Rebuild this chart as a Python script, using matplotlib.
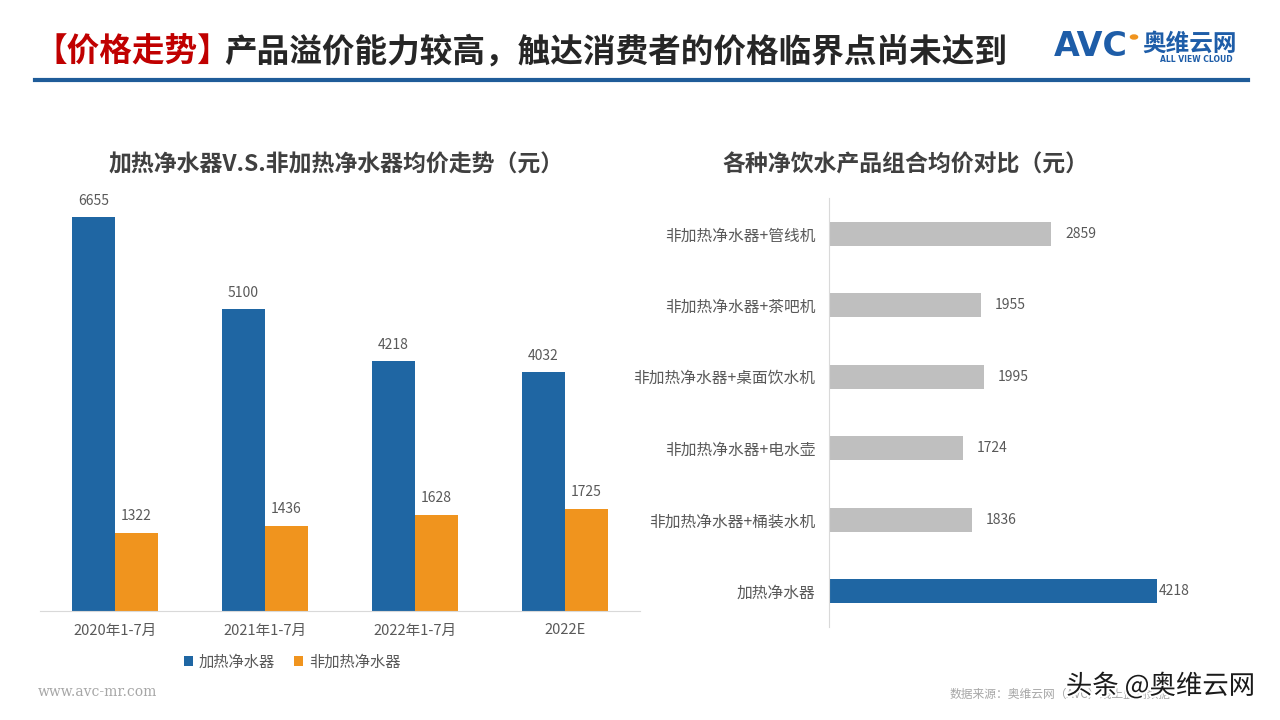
import matplotlib
matplotlib.use('Agg')
import matplotlib.pyplot as plt
import matplotlib.patheffects as pe
import numpy as np

plt.rcParams['font.family'] = ['Noto Sans CJK SC', 'DejaVu Sans']

BLUE   = "#1F66A3"
ORANGE = "#F0941E"
GRAY   = "#BFBFBF"
TXT    = "#595959"
DARK   = "#262626"
RED    = "#C00000"
LINE   = "#1F5C99"
LOGO   = "#1E5DA8"

# ── data ─────────────────────────────────────────────────────────────────────
periods     = ["2020年1-7月", "2021年1-7月", "2022年1-7月", "2022E"]
heated      = [6655, 5100, 4218, 4032]
non_heated  = [1322, 1436, 1628, 1725]

combos      = ["非加热净水器+管线机", "非加热净水器+茶吧机", "非加热净水器+桌面饮水机",
               "非加热净水器+电水壶", "非加热净水器+桶装水机", "加热净水器"]
combo_price = [2859, 1955, 1995, 1724, 1836, 4218]

fig = plt.figure(figsize=(12.8, 7.2), dpi=100)
fig.patch.set_facecolor("white")

def fx(px): return px / 1280
def fy(py): return 1 - py / 720

# ── header ───────────────────────────────────────────────────────────────────
t1 = fig.text(fx(34), fy(52), "【价格走势】", color=RED, fontsize=23.5,
              fontweight='bold', va='center', ha='left')
fig.canvas.draw()
bb = t1.get_window_extent()
fig.text(bb.x1 / 1280 - 0.004, fy(52), "产品溢价能力较高，触达消费者的价格临界点尚未达到",
         color=DARK, fontsize=23.5, fontweight='bold', va='center', ha='left')
fig.add_artist(plt.Line2D([fx(35), fx(1248)], [fy(80), fy(80)], color=LINE, lw=3))

# logo
fig.text(fx(1054), fy(47), "AVC", color=LOGO, fontsize=24, fontweight='heavy',
         va='center', ha='left', family='DejaVu Sans')
fig.add_artist(plt.Circle((fx(1134), fy(37)), 0.0028, color=ORANGE,
                          transform=fig.transFigure))
fig.text(fx(1142), fy(44), "奥维云网", color=LOGO, fontsize=17, fontweight='bold',
         va='center', ha='left')
fig.text(fx(1160), fy(59), "ALL VIEW CLOUD", color=LOGO, fontsize=5.5,
         va='center', ha='left', family='DejaVu Sans', fontweight='bold')

# ── left chart ───────────────────────────────────────────────────────────────
ax1 = fig.add_axes([fx(40), fy(611), fx(600), 426 / 720])
x = np.arange(len(periods))
w = 0.287
b1 = ax1.bar(x - w / 2, heated, w, color=BLUE, label="加热净水器")
b2 = ax1.bar(x + w / 2, non_heated, w, color=ORANGE, label="非加热净水器")
ax1.bar_label(b1, padding=7, fontsize=10, color=TXT)
ax1.bar_label(b2, padding=7, fontsize=10, color=TXT)
ax1.set_xlim(-0.5, 3.5)
ax1.set_ylim(0, 7200)
ax1.set_xticks(x, periods)
ax1.tick_params(axis='x', length=0, pad=9, labelsize=10.5, labelcolor=TXT)
ax1.set_yticks([])
for s in ['top', 'right', 'left']:
    ax1.spines[s].set_visible(False)
ax1.spines['bottom'].set_color("#D9D9D9")
ax1.legend(loc='center', bbox_to_anchor=(fx(292), fy(662)), bbox_transform=fig.transFigure,
           ncol=2, frameon=False, fontsize=11, labelcolor=TXT, handlelength=0.6,
           handleheight=0.6, handletextpad=0.4, columnspacing=1.2)
fig.text(fx(336), fy(165), "加热净水器V.S.非加热净水器均价走势（元）", fontsize=16.5,
         fontweight='bold', color="#404040", ha='center', va='center')

# ── right chart ──────────────────────────────────────────────────────────────
ax2 = fig.add_axes([fx(829), fy(627), fx(428), 429 / 720])
y = np.arange(len(combos))
colors = [GRAY] * (len(combos) - 1) + [BLUE]
b3 = ax2.barh(y, combo_price, 0.34, color=colors)
labels = ax2.bar_label(b3, padding=10, fontsize=10, color=TXT)
labels[-1].xyann = (1, 0)
ax2.set_ylim(len(combos) - 0.5, -0.5)
ax2.set_xlim(0, 5500)
ax2.set_yticks(y, combos)
ax2.tick_params(axis='y', length=0, pad=10, labelsize=11.3, labelcolor=TXT)
ax2.set_xticks([])
for s in ['top', 'right', 'bottom']:
    ax2.spines[s].set_visible(False)
ax2.spines['left'].set_color("#D9D9D9")
fig.text(fx(905), fy(165), "各种净饮水产品组合均价对比（元）", fontsize=16.5,
         fontweight='bold', color="#404040", ha='center', va='center')

# ── footer ───────────────────────────────────────────────────────────────────
fig.text(fx(38), fy(692), "www.avc-mr.com", fontsize=10, color="#A6A6A6",
         family='DejaVu Serif', va='center', ha='left')
fig.text(fx(950), fy(694), "数据来源：奥维云网（AVC）线上监测数据", fontsize=8.5,
         color="#A6A6A6", va='center', ha='left')
fig.text(fx(1255), fy(686), "头条 @奥维云网", fontsize=19, color="#1A1A1A",
         va='center', ha='right',
         path_effects=[pe.withStroke(linewidth=3, foreground="white")])

fig.savefig("out.png", dpi=100, facecolor="white")
